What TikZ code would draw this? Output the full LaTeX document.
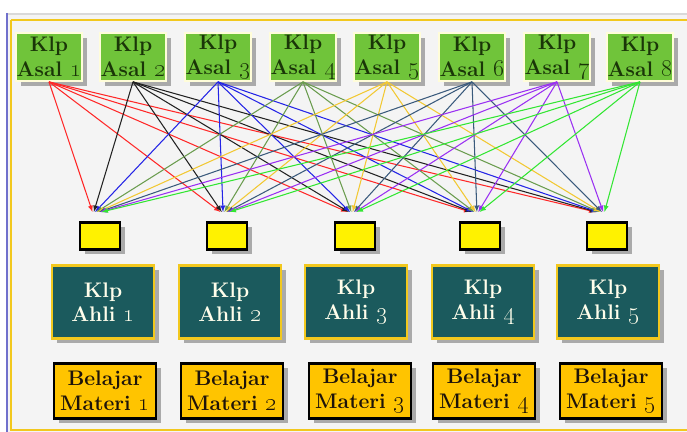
\documentclass[tikz,border=0pt]{standalone}
\usetikzlibrary{shadows}
\definecolor{asalgreen}{HTML}{70C43A}
\definecolor{asaltext}{HTML}{1A3608}
\definecolor{ahliteal}{HTML}{1B5A5D}
\definecolor{framegold}{HTML}{F2C81E}
\definecolor{materigold}{HTML}{FFC400}
\definecolor{panelgray}{HTML}{F4F4F4}
\definecolor{frameblue}{HTML}{7070CC}
\definecolor{linered}{HTML}{FF2828}
\definecolor{lineblack}{HTML}{222222}
\definecolor{lineblue}{HTML}{2424E6}
\definecolor{lineolive}{HTML}{6A9C4E}
\definecolor{lineyellow}{HTML}{F2C832}
\definecolor{lineslate}{HTML}{3A5A7C}
\definecolor{linepurple}{HTML}{9A30F2}
\definecolor{linegreen}{HTML}{32E632}
\newcommand\boxfont{\fontsize{18}{21}\selectfont\bfseries}
\newcommand\grpnum[1]{{\fontsize{22}{21}\selectfont\oldstylenums{#1}}}
\tikzset{>=latex}
\tikzset{
  boxshadow/.style = {drop shadow={shadow xshift=4pt, shadow yshift=-4pt, opacity=0.3, fill=black}},
  asal/.style = {draw=yellow!15, line width=1.5pt, fill=asalgreen, text=asaltext, minimum width=1.98cm, minimum height=1.44cm, inner sep=0pt, align=center, font=\boxfont, boxshadow},
  marker/.style = {draw=black, line width=2pt, fill=yellow, minimum width=1.2cm, minimum height=0.8cm, inner sep=0pt, boxshadow},
  ahli/.style = {draw=framegold, line width=2pt, fill=ahliteal, text=white!92!yellow, minimum width=3.05cm, minimum height=2.2cm, inner sep=0pt, align=center, font=\boxfont, boxshadow},
  materi/.style = {draw=black, line width=2pt, fill=materigold, text=black!85!brown, minimum width=3.05cm, minimum height=1.66cm, inner sep=0pt, align=center, font=\boxfont, boxshadow},
  link/.style = {->, line width=0.9pt}
}

\begin{document}
\begin{tikzpicture}[x=0.03cm, y=-0.03cm]
  \useasboundingbox (0,0) rectangle (687,432);
  % panel
  \fill[panelgray] (7,13) rectangle (687,432);
  \draw[black!15, line width=2.5pt] (7,14) -- (687,14);
  \draw[frameblue, line width=1pt] (7,13) -- (7,432);
  \draw[framegold, line width=2.5pt] (11,20) -- (687,20);
  \draw[framegold, line width=2.5pt] (11,20) -- (11,430) -- (687,430);
  % asal groups
  \foreach \x [count=\i] in {49,133,218,303,387,472,557,640}
    \node[asal] (a\i) at (\x,57) {Klp\\Asal \grpnum{\i}};
  % arrow targets and markers
  \foreach \x/\m [count=\j] in {97/100,225/227,352/355,475/480,600/607} {
    \coordinate (t\j) at (\x,212);
    \node[marker] (m\j) at (\m,236) {};
  }
  % ahli groups
  \foreach \x [count=\j] in {103,230,356,483,608}
    \node[ahli] (h\j) at (\x,302) {Klp\\Ahli \grpnum{\j}};
  % materi
  \foreach \x [count=\j] in {105,232,360,484,611}
    \node[materi] (b\j) at (\x,391) {Belajar\\Materi \grpnum{\j}};
  % links
  \foreach \c [count=\i] in {linered,lineblack,lineblue,lineolive,lineyellow,lineslate,linepurple,linegreen}
    \foreach \j in {1,...,5}
      \draw[link,\c] (a\i.south) -- ([xshift={(\i-4.5)*1.1pt}]t\j);
\end{tikzpicture}
\end{document}
